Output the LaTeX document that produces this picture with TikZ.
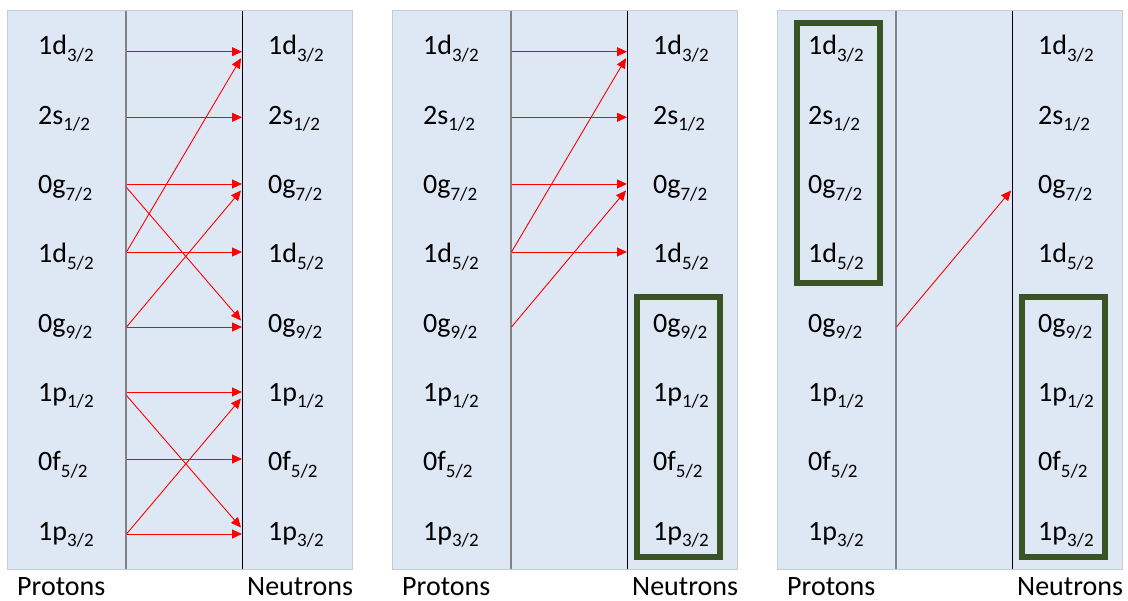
\documentclass[tikz,border=0pt]{standalone}
\usepackage{fontspec}
\setmainfont{Carlito}
\usetikzlibrary{arrows.meta}
\definecolor{panelfill}{RGB}{222,232,244}
\definecolor{paneledge}{RGB}{196,204,214}
\definecolor{shellgreen}{RGB}{58,84,38}
\definecolor{hopred}{RGB}{255,0,0}
\definecolor{midgray}{RGB}{128,132,138}
\newcommand{\orb}[2]{#1\raisebox{-6.5pt}{\fontsize{19}{20}\selectfont #2/2}}

\begin{document}
\begin{tikzpicture}[x=1pt, y=-1pt,
  panel/.style={draw=paneledge, fill=panelfill, line width=1pt},
  lvl/.style={anchor=base west, inner sep=0pt, font=\fontsize{28}{30}\selectfont},
  side/.style={lvl, text depth=0pt},
  hop/.style={-{Triangle[length=10pt,width=9pt]}, draw=hopred, line width=0.9pt},
  shell/.style={draw=shellgreen, line width=6pt},
]
  \useasboundingbox (0,0) rectangle (1128,601);

  % three panels: background, proton line, neutron line, levels
  \foreach \p/\ox in {1/7,2/392,3/777} {
    \draw[panel] (\ox,11) rectangle ++(345,558);
    \draw[midgray, line width=1.5pt] (\ox+119,11) -- (\ox+119,569);
    \draw[black, line width=0.9pt] (\ox+235,11) -- (\ox+235,569);
    \foreach \r/\nm/\nu/\ay in {1/1d/3/51.7, 2/2s/1/117.3, 3/0g/7/184, 4/1d/5/252,
                                5/0g/9/327, 6/1p/1/392, 7/0f/5/459, 8/1p/3/534} {
      \node[lvl] (pl\p-\r) at (\ox+31,55+69.3*\r-69.3) {\orb{\nm}{\nu}};
      \node[lvl] (nl\p-\r) at (\ox+261,55+69.3*\r-69.3) {\orb{\nm}{\nu}};
      \coordinate (L\p-\r) at (\ox+119.5,\ay);
      \coordinate (Lx\p-\r) at (\ox+119.5,\ay+3.5);
      \coordinate (R\p-\r) at (\ox+235,\ay);
      \coordinate (Ru\p-\r) at (\ox+234,\ay+6.5);
      \coordinate (Rd\p-\r) at (\ox+234,\ay-6.5);
    }
    \node[side] (prot\p) at (\ox+10,595.5) {Protons};
    \node[side] (neut\p) at (\ox+240,595.5) {Neutrons};
  }

  % panel 1
  \foreach \r in {1,...,8} \draw[hop] (L1-\r) -- (R1-\r);
  \draw[hop] (Lx1-3) -- (Rd1-5);
  \draw[hop] (L1-4) -- (Ru1-1);
  \draw[hop] (L1-5) -- (Ru1-3);
  \draw[hop] (Lx1-6) -- (Rd1-8);
  \draw[hop] (L1-8) -- (Ru1-6);

  % panel 2
  \foreach \r in {1,...,4} \draw[hop] (L2-\r) -- (R2-\r);
  \draw[hop] (L2-4) -- (Ru2-1);
  \draw[hop] (L2-5) -- (Ru2-3);
  \draw[shell] (392+245,297) rectangle (392+328,557);

  % panel 3
  \draw[hop] (L3-5) -- (Ru3-3);
  \draw[shell] (777+20,23) rectangle (777+103,283);
  \draw[shell] (777+245,297) rectangle (777+328,557);
\end{tikzpicture}
\end{document}
